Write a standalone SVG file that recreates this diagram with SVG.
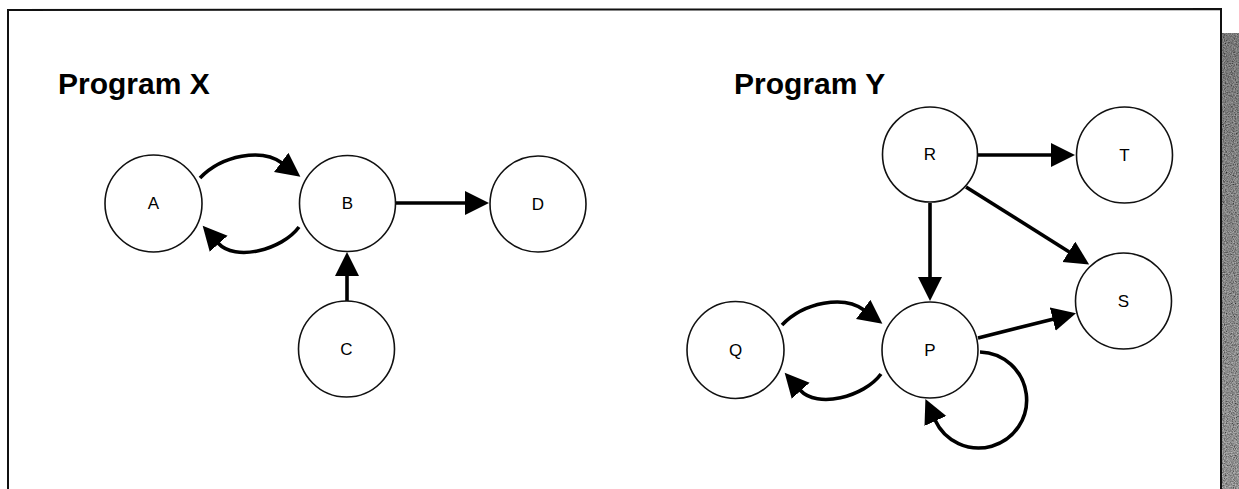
<svg xmlns="http://www.w3.org/2000/svg" width="1239" height="489" viewBox="0 0 1239 489">
  <style>
    .frame { fill: none; stroke: #111; stroke-width: 2; }
    .title { font-family: "Liberation Sans", Arial, sans-serif; font-weight: bold; font-size: 30px; fill: #000; }
    .node circle { fill: #fff; stroke: #111; stroke-width: 1.6; }
    .node text { font-family: "Liberation Sans", Arial, sans-serif; font-size: 17px; fill: #000; text-anchor: middle; dominant-baseline: central; }
    .edge { fill: none; stroke: #000; stroke-width: 3.6; marker-end: url(#arrow); }
  </style>
  <defs>
    <marker id="arrow" markerUnits="userSpaceOnUse" markerWidth="28" markerHeight="28" refX="1" refY="12" orient="auto">
      <path d="M0,0 L24,12 L0,24 Z" fill="#000"/>
    </marker>
    <linearGradient id="stripShade" x1="0" y1="0" x2="0" y2="1">
      <stop offset="0" stop-color="#a4a4a4"/>
      <stop offset="0.35" stop-color="#b4b4b4"/>
      <stop offset="1" stop-color="#c6c6c6"/>
    </linearGradient>
    <filter id="grain" x="0" y="0" width="1" height="1">
      <feTurbulence type="fractalNoise" baseFrequency="0.9" numOctaves="2" seed="3" result="noise"/>
      <feColorMatrix in="noise" type="matrix" values="0 0 0 0 0  0 0 0 0 0  0 0 0 0 0  0 0 0 -1.2 1.1" result="speck"/>
      <feComposite in="speck" in2="SourceGraphic" operator="in" result="dots"/>
      <feMerge><feMergeNode in="SourceGraphic"/><feMergeNode in="dots"/></feMerge>
    </filter>
  </defs>

  <rect width="1239" height="489" fill="#fff"/>

  <!-- scanned edge strip on the right -->
  <rect x="1222" y="33" width="17" height="456" fill="url(#stripShade)" filter="url(#grain)"/>

  <!-- outer frame -->
  <path class="frame" d="M8,489 L8,10 L1221,9 L1221,489"/>

  <text class="title" x="58" y="94">Program X</text>
  <text class="title" x="734" y="94">Program Y</text>

  <g id="connectors">
    <!-- Program X -->
    <path class="edge" d="M200,178 C222,155 262,148 282,163"/>
    <path class="edge" d="M299,227 C282,250 235,262 218,243"/>
    <path class="edge" d="M395,203 L466,203"/>
    <path class="edge" d="M347,301 L347,275"/>
    <!-- Program Y -->
    <path class="edge" d="M978,155 L1052,155"/>
    <path class="edge" d="M930,203 L930,278"/>
    <path class="edge" d="M966,187 L1069.7,252.3"/>
    <path class="edge" d="M978,338 L1053.7,318.9"/>
    <path class="edge" d="M782,325 C804,302 844,295 864,310"/>
    <path class="edge" d="M881,374 C864,397 817,409 800,390"/>
    <path class="edge" d="M980,352 A48,48 0 1 1 935,420"/>
  </g>

  <g id="node-A" class="node"><circle cx="153.5" cy="203.5" r="48.5"/><text x="153.5" y="203.5">A</text></g>
  <g id="node-B" class="node"><circle cx="347.5" cy="203.5" r="48"/><text x="347.5" y="203.5">B</text></g>
  <g id="node-C" class="node"><circle cx="346.5" cy="349" r="48"/><text x="346.5" y="349">C</text></g>
  <g id="node-D" class="node"><circle cx="538" cy="204" r="48"/><text x="538" y="204">D</text></g>

  <g id="node-R" class="node"><circle cx="930" cy="154.5" r="47.5"/><text x="930" y="154.5">R</text></g>
  <g id="node-T" class="node"><circle cx="1124.5" cy="155" r="48"/><text x="1124.5" y="155">T</text></g>
  <g id="node-S" class="node"><circle cx="1123.5" cy="301" r="48"/><text x="1123.5" y="301">S</text></g>
  <g id="node-P" class="node"><circle cx="930" cy="350" r="48"/><text x="930" y="350">P</text></g>
  <g id="node-Q" class="node"><circle cx="735.5" cy="350" r="48.5"/><text x="735.5" y="350">Q</text></g>
</svg>
